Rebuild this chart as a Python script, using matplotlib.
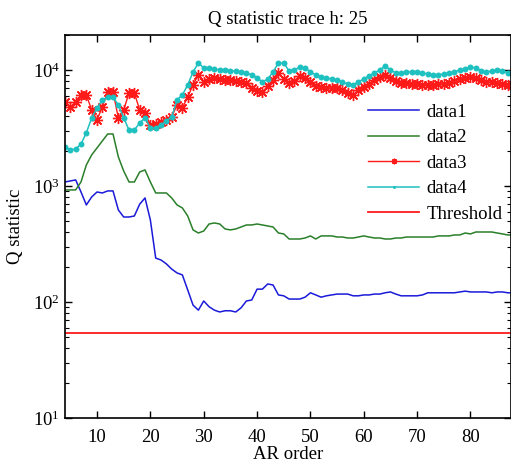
import matplotlib
matplotlib.use("Agg")
import matplotlib.pyplot as plt
from matplotlib.ticker import LogLocator, NullFormatter

plt.rcParams['font.family'] = ['Liberation Serif', 'DejaVu Serif']
plt.rcParams['mathtext.fontset'] = 'stix'

ar_order = list(range(4, 89))

data1 = [1082, 1104, 1127, 887, 686, 804, 887, 870, 906, 906, 621, 540, 540, 551, 697, 788,
         509, 239, 230, 213, 192, 178, 171, 127, 94, 85, 102, 91, 85, 82, 84, 84, 82, 89, 102,
         104, 129, 129, 143, 140, 115, 113, 106, 106, 106, 110, 120, 115, 110, 113, 115, 117,
         117, 117, 113, 113, 115, 115, 117, 117, 120, 122, 117, 113, 113, 113, 113, 115, 120,
         120, 120, 120, 120, 120, 122, 124, 122, 122, 122, 122, 120, 122, 122, 120, 120]

data2 = [924, 924, 924, 1082, 1517, 1851, 2127, 2442, 2805, 2805, 1779, 1346, 1082, 1082,
         1320, 1374, 1082, 870, 870, 870, 788, 686, 646, 551, 418, 393, 409, 470, 480, 470,
         426, 418, 426, 443, 461, 461, 470, 461, 452, 443, 393, 386, 349, 349, 349, 356, 371,
         349, 371, 371, 371, 363, 363, 356, 356, 363, 371, 363, 356, 356, 349, 349, 356, 356,
         363, 363, 363, 363, 363, 363, 371, 371, 371, 378, 378, 393, 386, 401, 401, 401, 401,
         393, 386, 378, 378]

data3 = [5300, 4800, 5300, 6090, 6090, 4520, 3710, 4800, 6460, 6460, 3860, 4520, 6330, 6330,
         4520, 4260, 3360, 3420, 3560, 3710, 3930, 4990, 4700, 5850, 7430, 9060, 7880, 8360,
         8530, 8360, 8200, 8200, 8030, 7880, 7720, 7000, 6590, 6460, 7280, 8200, 9420, 8360,
         7720, 8030, 8880, 8530, 7880, 7280, 7140, 7000, 7000, 7000, 6720, 6330, 6090, 6720,
         7140, 7570, 8200, 8710, 9060, 8530, 8030, 7720, 7720, 7570, 7570, 7430, 7430, 7430,
         7570, 7570, 7720, 8030, 8360, 8530, 8710, 8530, 8200, 7880, 7880, 7720, 7570, 7430,
         7430]

data4 = [2170, 2040, 2080, 2300, 2870, 3860, 4700, 5510, 5850, 5850, 4990, 3860, 3040, 3040,
         3490, 3860, 3160, 3160, 3360, 3630, 3930, 5510, 6090, 7430, 9610, 11480, 10400, 10400,
         10200, 10000, 10000, 9800, 9800, 9610, 9420, 9060, 8530, 7880, 8360, 9610, 11480,
         11480, 9800, 10000, 10610, 10400, 9610, 9060, 8710, 8530, 8360, 8200, 7880, 7570,
         7430, 7880, 8360, 8880, 9420, 10000, 10820, 10000, 9420, 9420, 9610, 9610, 9610, 9420,
         9240, 9060, 9060, 9240, 9420, 9610, 10000, 10200, 10610, 10400, 9800, 9610, 9800,
         10000, 9800, 9420, 9420]

threshold = 54
series_names = ['data1', 'data2', 'data3', 'data4', 'Threshold']
x_ticks = [10, 20, 30, 40, 50, 60, 70, 80]

fig = plt.figure(figsize=(5.11, 4.67), dpi=100)
ax = fig.add_axes([65 / 511, 1 - 418 / 467, (510.5 - 65) / 511, (418 - 35) / 467])

c_blue = '#1a1ad8'
c_green = '#2a7f2a'
c_red = '#ff1a1a'
c_cyan = '#1fc0c0'

ax.plot(ar_order, data1, color=c_blue, lw=1.1, label=series_names[0])
ax.plot(ar_order, data2, color=c_green, lw=1.1, label=series_names[1])
ax.plot(ar_order, data3, color=c_red, lw=1.0, marker=(8, 2, 0), ms=8, mew=1.0,
        label=series_names[2])
ax.plot(ar_order, data4, color=c_cyan, lw=1.1, marker='o', ms=4.3, mew=0,
        label=series_names[3])
ax.axhline(threshold, color=c_red, lw=1.3, label=series_names[4])

ax.set_yscale('log')
ax.set_xlim(4, 87.5)
ax.set_ylim(10, 2e4)
ax.set_xticks(x_ticks)
ax.yaxis.set_major_locator(LogLocator(base=10, numticks=10))
ax.yaxis.set_minor_locator(LogLocator(base=10, subs=range(2, 10), numticks=100))
ax.yaxis.set_minor_formatter(NullFormatter())

ax.tick_params(which='both', direction='in', top=True, right=True, labelsize=13.5)
ax.tick_params(which='major', length=5, width=1)
ax.tick_params(which='minor', length=3, width=0.8)
ax.tick_params(axis='x', pad=8)
for s in ax.spines.values():
    s.set_linewidth(1.2)

ax.set_title('Q statistic trace h: 25', fontsize=13.5, pad=8)
ax.set_xlabel('AR order', fontsize=13.5, labelpad=0)
ax.set_ylabel('Q statistic', fontsize=13.5, labelpad=6)

leg = ax.legend(loc='upper right', bbox_to_anchor=(1.02, 0.865), frameon=False,
                fontsize=13.5, handlelength=2.7, handletextpad=0.4, labelspacing=0.45,
                markerscale=0.5)

fig.savefig('out.png', dpi=100)
